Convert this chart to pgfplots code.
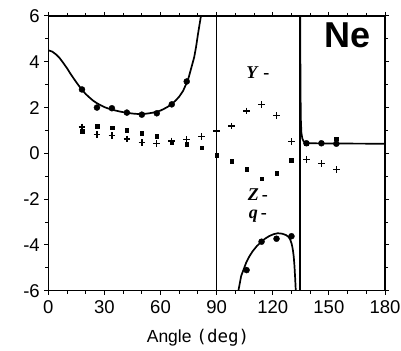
\documentclass[border=0pt]{standalone}
\usepackage{fontspec}
\setmainfont{Liberation Sans}
\newfontfamily\serifbi{Liberation Serif}
\newfontfamily\monof{DejaVu Sans Mono}
\usepackage{pgfplots}
\pgfplotsset{compat=1.18}
\begin{document}
\begin{tikzpicture}
\begin{axis}[
  name=a,
  scale only axis,
  width=336.7bp, height=274.7bp,
  xmin=0, xmax=180, ymin=-6, ymax=6,
  xtick={0,30,...,180}, ytick={-6,-4,...,6},
  minor x tick num=2, minor y tick num=1,
  tick align=outside,
  major tick length=4bp, minor tick length=3bp,
  axis line style={line width=1.4bp},
  every tick/.style={line width=1bp, black},
  ticklabel style={font=\fontsize{18.5bp}{20bp}\selectfont},
  /pgf/number format/assume math mode=true,
  xticklabel style={yshift=-2bp},
  yticklabel style={xshift=-1bp},
  xlabel={Angle {\monof(deg)}},
  xlabel style={font=\fontsize{17.5bp}{19bp}\selectfont, at={(axis description cs:0.4446,0)}, anchor=north, yshift=-35bp},
  clip=true,
]
% Y (plus)
\addplot[only marks, mark=+, mark size=3.3bp, mark options={line width=1.4bp}] coordinates {
(18,1.15) (26,0.82) (34,0.77) (42,0.63) (50,0.47) (58,0.42) (66,0.54) (74,0.61) (82,0.73)
(90,0.97) (98,1.19) (106,1.85) (114,2.14) (122,1.66) (130,0.51) (138,-0.26) (146,-0.45) (154,-0.70)
};
% Z (squares)
\addplot[only marks, mark=square*, mark size=1.8bp] coordinates {
(18,0.97) (26,1.18) (34,1.12) (42,1.02) (50,0.89) (58,0.76) (66,0.48) (74,0.41) (82,0.25)
(90,-0.07) (98,-0.34) (106,-0.70) (114,-1.10) (122,-0.87) (130,-0.29) (138,0.45) (146,0.47) (154,0.64)
};
% q (filled circles)
\addplot[only marks, mark=*, mark size=3bp] coordinates {
(18,2.79) (26,2.0) (34,1.97) (42,1.78) (50,1.69) (58,1.75) (66,2.14) (74,3.14)
(106,-5.10) (114,-3.86) (122,-3.73) (130,-3.62)
(138,0.44) (146,0.44) (154,0.42)
};
% theory curve, first branch
\addplot[black, line width=1.7bp] coordinates {
(0,4.5) (2,4.45) (4,4.33) (6,4.17) (8,3.95) (10,3.72) (12,3.46) (14,3.22) (16,2.99) (18,2.78)
(20,2.59) (22,2.44) (24,2.3) (26,2.19) (28,2.1) (30,2.02) (32,1.96) (34,1.91) (36,1.87) (38,1.83)
(40,1.8) (42,1.77) (44,1.75) (46,1.73) (48,1.72) (50,1.72) (52,1.73) (54,1.75) (56,1.78) (58,1.82)
(60,1.87) (62,1.95) (64,2.04) (66,2.16) (68,2.3) (70,2.48) (72,2.72) (74,3.08) (75,3.3) (76,3.6)
(77,3.9) (78,4.2) (79,4.65) (80,5.2) (81,5.7) (81.8,6.1) (82.2,6.5)
};
% asymptote at 90
\addplot[black, line width=1.4bp] coordinates {(90,-6) (90,6)};
% second branch
\addplot[black, line width=1.7bp] coordinates {
(101.5,-6.1) (101.7,-5.97) (103.1,-5.36) (105.8,-4.77) (107.5,-4.5) (109.3,-4.27) (111.5,-4.05)
(113.8,-3.87) (116,-3.72) (118.2,-3.61) (120.5,-3.53) (122.7,-3.49) (125,-3.51) (127.1,-3.57)
(128.4,-3.65) (129.3,-3.76) (130.1,-3.95) (130.7,-4.19) (131.2,-4.5) (131.6,-4.92) (132,-5.5)
(132.3,-6) (132.4,-6.2)
};
% asymptote at 134.5
\addplot[black, line width=2.2bp] coordinates {(134.5,-6) (134.5,6)};
% third branch
\addplot[black, line width=1.7bp] coordinates {
(134.7,6.2) (134.8,3) (135,1.5) (135.3,0.9) (135.8,0.65) (136.5,0.52) (137.5,0.46) (140,0.44)
(150,0.43) (180,0.42)
};
\node[font=\fontsize{36bp}{38bp}\selectfont\bfseries] at (axis cs:159.8,5.15) {Ne};
\node[font=\fontsize{18bp}{20bp}\selectfont\serifbi\bfseries\itshape] at (axis cs:112,3.54) {Y\,\,{\upshape-}};
\node[font=\fontsize{18bp}{20bp}\selectfont\serifbi\bfseries\itshape] at (axis cs:112,-1.79) {Z\,{\upshape-}};
\node[font=\fontsize{18bp}{20bp}\selectfont\serifbi\bfseries\itshape] at (axis cs:112,-2.75) {q\,{\upshape-}};
\end{axis}
\pgfresetboundingbox
\path[use as bounding box] ([shift={(-48.3bp,-60.3bp)}]a.south west) rectangle ([shift={(16bp,16bp)}]a.north east);
\end{tikzpicture}
\end{document}
